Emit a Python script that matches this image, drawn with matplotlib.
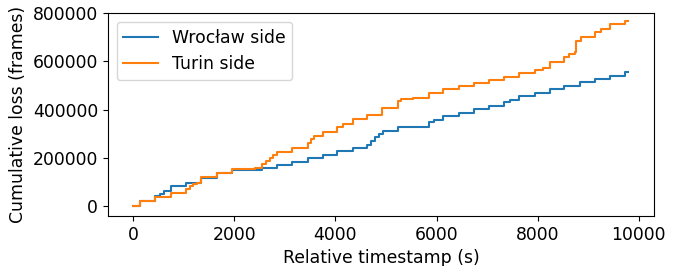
import matplotlib
matplotlib.use('Agg')
import matplotlib.pyplot as plt

# event times (s) and cumulative loss (frames) after each event
wroclaw_t = [0, 140, 435, 520, 600, 745, 1050, 1345, 1650, 1950, 2540, 2840, 3150,
             3450, 3750, 4035, 4340, 4630, 4700, 4780, 4860, 4945, 5240, 5850, 5950,
             6135, 6445, 6745, 7035, 7330, 7450, 7635, 7940, 8240, 8530, 8840, 9140,
             9430, 9730, 9780]
wroclaw_v = [0, 22000, 43000, 52000, 63000, 84000, 98000, 119000, 140000, 149000,
             160000, 171000, 185000, 202000, 214000, 228000, 242000, 255000, 270000,
             285000, 300000, 312000, 329000, 350000, 356000, 374000, 388000, 402000,
             416000, 432000, 440000, 455000, 468000, 485000, 499000, 513000, 526000,
             540000, 554000, 554000]

turin_t = [0, 140, 435, 745, 1050, 1120, 1190, 1260, 1345, 1650, 1950, 2410, 2540,
           2620, 2700, 2770, 2840, 3150, 3450, 3510, 3570, 3750, 4035, 4150, 4340,
           4630, 4925, 5240, 5300, 5540, 5850, 6135, 6445, 6745, 7035, 7330, 7635,
           7940, 8110, 8240, 8530, 8630, 8730, 8750, 8850, 9140, 9250, 9430, 9730,
           9780]
turin_v = [0, 22000, 40000, 57000, 72000, 84000, 92000, 98000, 123000, 140000, 153000,
           160000, 174000, 186000, 200000, 213000, 225000, 240000, 262000, 278000,
           291000, 308000, 330000, 340000, 361000, 377000, 406000, 436000, 443000,
           447000, 468000, 485000, 496000, 510000, 523000, 537000, 551000, 565000,
           572000, 598000, 620000, 630000, 639000, 685000, 699000, 720000, 734000,
           754000, 768000, 768000]

plt.rcParams['font.size'] = 12.4

fig = plt.figure(figsize=(6.79, 2.66), dpi=100)
ax = fig.add_axes([0.159, 0.188, 0.804, 0.763])

ax.plot(wroclaw_t, wroclaw_v, drawstyle='steps-post', label='Wrocław side')
ax.plot(turin_t, turin_v, drawstyle='steps-post', label='Turin side')

ax.set_xlabel('Relative timestamp (s)')
ax.set_ylabel('Cumulative loss (frames)')
ax.set_xticks([0, 2000, 4000, 6000, 8000, 10000])
ax.set_yticks([0, 200000, 400000, 600000, 800000])
ax.set_ylim(-40000, 800000)
ax.set_xlim(-500, 10300)
ax.legend(loc='upper left')

fig.savefig('out.png', dpi=100)
